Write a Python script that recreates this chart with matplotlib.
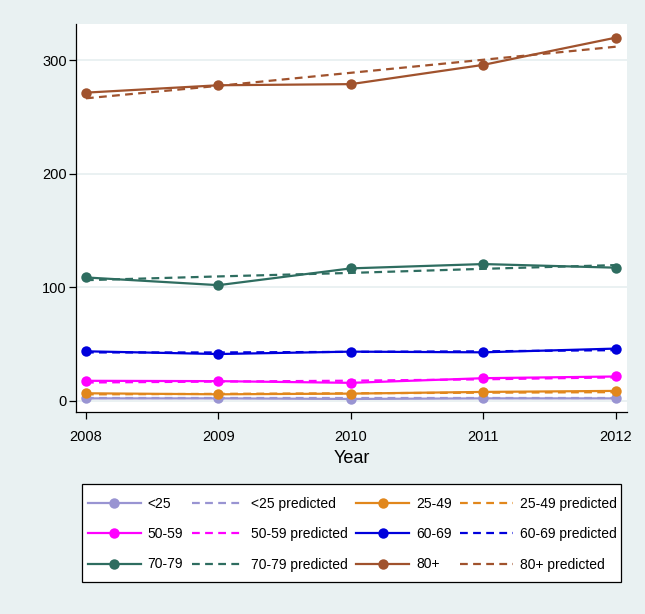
import matplotlib
matplotlib.use("Agg")
import matplotlib.pyplot as plt
from matplotlib.patches import Rectangle

plt.rcParams['font.family'] = ['Liberation Sans', 'DejaVu Sans']

years = [2008, 2009, 2010, 2011, 2012]

groups = ['<25', '25-49', '50-59', '60-69', '70-79', '80+']
colors = ['#9994D2', '#E1871C', '#FF00FF', '#0000DC', '#2E6D60', '#A0522D']

# observed counts per age group
observed = {
    '<25':   [2, 2, 1.5, 2, 2],
    '25-49': [6.5, 5.6, 6.2, 7.7, 8.6],
    '50-59': [17.5, 17.2, 15.7, 19.8, 21.3],
    '60-69': [43.5, 41.1, 43.2, 42.6, 45.9],
    '70-79': [108.6, 101.8, 116.6, 120.4, 117.2],
    '80+':   [271.5, 278, 279, 296, 320],
}

# fitted / predicted values
predicted = {
    '<25':   [2, 2, 2, 2, 2],
    '25-49': [5.5, 6, 6.5, 7, 7.5],
    '50-59': [16, 16.8, 17.6, 18.8, 20.5],
    '60-69': [42.5, 42.5, 43, 43.5, 44.5],
    '70-79': [106.2, 109.5, 112.6, 116.2, 119.5],
    '80+':   [266.5, 277.5, 289, 300.5, 312],
}

bg = '#E9F1F2'
fig = plt.figure(figsize=(6.45, 6.14), dpi=100, facecolor=bg)
ax = fig.add_axes([76/645, 1-412/614, (627-76)/645, (412-24)/614])
ax.set_facecolor('white')

handles = []
labels = []
for g, c in zip(groups, colors):
    h1, = ax.plot(years, observed[g], color=c, lw=1.6, marker='o', ms=7.5,
                  markeredgewidth=0)
    h2, = ax.plot(years, predicted[g], color=c, lw=1.6, ls=(0, (3.5, 2.4)))
    handles += [h1, h2]
    labels += [g, g + ' predicted']

ax.set_xlim(2007.925, 2012.083)
ax.set_ylim(-10, 332)
ax.set_xticks(years)
ax.set_yticks([0, 100, 200, 300])
ax.yaxis.grid(True, color='#E4EDEF', lw=1.1)
ax.set_axisbelow(True)

for s in ['top', 'right']:
    ax.spines[s].set_visible(False)
for s in ['left', 'bottom']:
    ax.spines[s].set_linewidth(0.9)
ax.tick_params(direction='out', length=5, width=0.9, labelsize=10.5)
ax.tick_params(axis='x', pad=8)
ax.tick_params(axis='y', pad=1.5)
ax.set_xlabel('Year', fontsize=13, labelpad=4)

# legend box drawn by hand, entries placed inside it
fig.add_artist(Rectangle((82/645, 1-582/614), (621-82)/645, (582-484)/614,
                         transform=fig.transFigure, facecolor='white',
                         edgecolor='black', lw=0.9))

# legend in Stata row order -> matplotlib fills column-wise
order = [0, 4, 8, 1, 5, 9, 2, 6, 10, 3, 7, 11]
leg = fig.legend([handles[i] for i in order], [labels[i] for i in order],
                 ncol=4, loc='upper left',
                 bbox_to_anchor=(88/645, 1-497/614),
                 frameon=False, fontsize=10, handlelength=3.8,
                 handletextpad=0.5, columnspacing=0.6, labelspacing=1.17,
                 borderpad=0, borderaxespad=0)

fig.savefig('out.png', dpi=100, facecolor=bg)
